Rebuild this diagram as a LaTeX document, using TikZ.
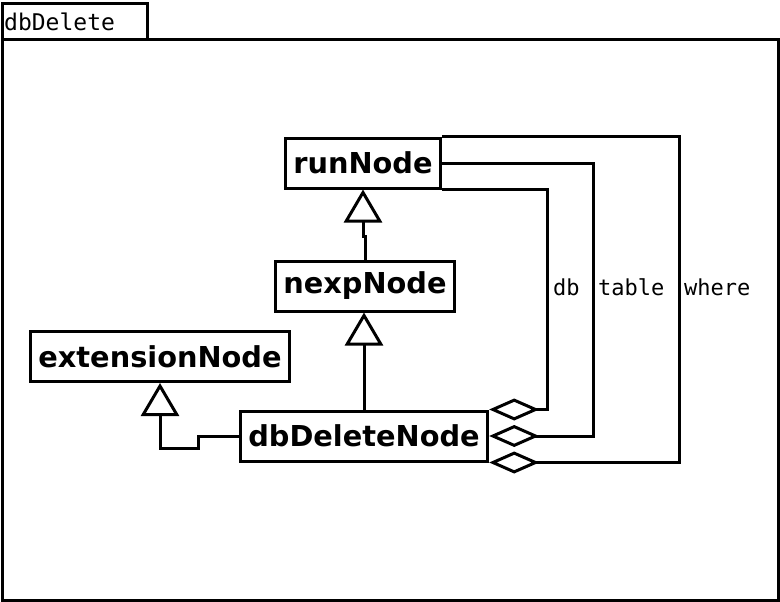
\documentclass[tikz,border=0pt]{standalone}
\usepackage{fontspec}
\setmainfont{DejaVu Sans}
\newfontfamily\monofont{DejaVu Sans Mono}
\usetikzlibrary{arrows.meta}

\begin{document}
\begin{tikzpicture}[x=1pt, y=-1pt,
  cls/.style={draw=black, line width=3pt, fill=white, minimum height=50pt, inner xsep=8pt,
    font=\fontsize{28.8}{32}\selectfont\bfseries},
  lbl/.style={anchor=west, inner sep=0pt, font=\monofont\fontsize{22}{26}\selectfont},
  inherit/.style={black, line width=3pt, -{Triangle[open, length=33pt, width=38pt, line width=3pt]}},
  agg/.style={black, line width=3pt, {Diamond[open, length=50pt, width=22pt, line width=3pt]}-}]
\useasboundingbox (0,0) rectangle (780,602);
%frame
\draw[black, line width=3pt] (2,4) rectangle (147,40);
\draw[black, line width=3pt] (2,40) rectangle (778,600);
\node[lbl, font=\monofont\fontsize{23}{26}\selectfont] (title) at (4,22) {dbDelete};

\node[cls] (run) at (363,163) {runNode};
\node[cls] (nexp) at (365,286) {nexpNode};
\node[cls] (ext) at (160,356.5) {extensionNode};
\node[cls] (dbdel) at (364,436) {dbDeleteNode};

\draw[inherit] (nexp.north) -- ++(0,-23) -| (run.south);
\draw[inherit] (dbdel.north) -- (dbdel.north |- nexp.south);
\draw[inherit] (dbdel.west) -- ++(-40,0) -- ++(0,12) -| (ext.south);

\draw[agg] (dbdel.north east) -- ++(58,0) |- (run.south east);
\draw[agg] (dbdel.east) -- ++(104,0) |- (run.east);
\draw[agg] (dbdel.south east) -- ++(190,0) |- (run.north east);

\node[lbl] (db) at (553,287) {db};
\node[lbl] (table) at (598,287) {table};
\node[lbl] (where) at (684,287) {where};

\end{tikzpicture}
\end{document}
